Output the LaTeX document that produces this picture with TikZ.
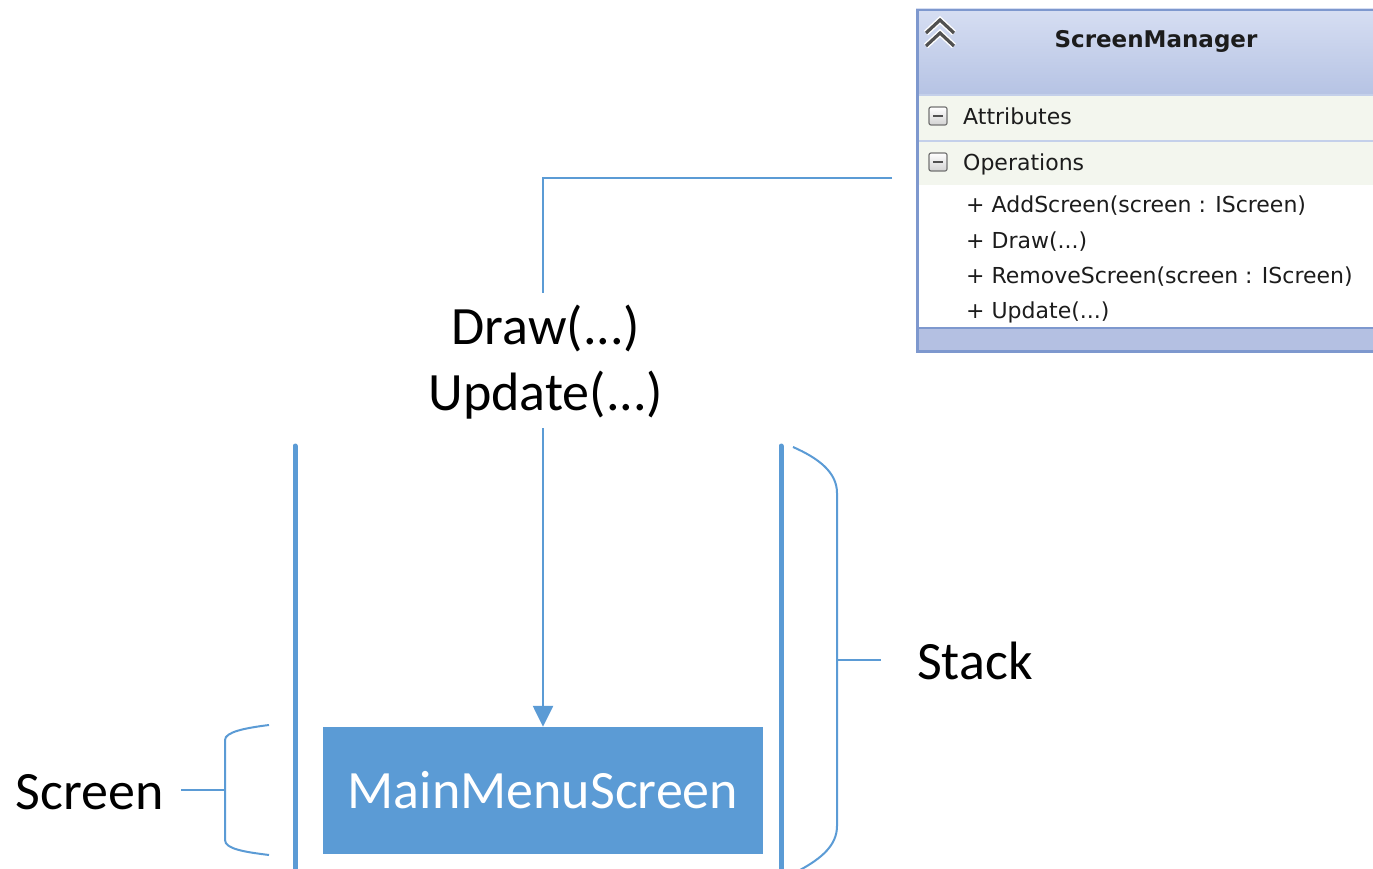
\documentclass[tikz,border=0pt]{standalone}
\usepackage{fontspec}
\setmainfont{Carlito}
\newfontfamily\umlfont{DejaVu Sans}
\usetikzlibrary{arrows.meta,calc}

\definecolor{accent}{HTML}{5B9BD5}
\definecolor{umlborder}{RGB}{126,152,206}
\definecolor{hdrtop}{RGB}{214,222,242}
\definecolor{hdrbot}{RGB}{182,195,228}
\definecolor{rowbg}{RGB}{243,246,238}
\definecolor{rowline}{RGB}{196,208,234}
\definecolor{footbg}{RGB}{180,192,226}
\definecolor{umlink}{RGB}{28,28,28}
\definecolor{icongray}{RGB}{80,80,80}

\begin{document}
\begin{tikzpicture}[x=1pt,y=-1pt,
  conn/.style={draw=accent, line width=2.5pt},
  wall/.style={draw=accent, line width=5pt, line cap=round},
  bracket/.style={draw=accent, line width=2pt},
  biglabel/.style={font=\fontsize{54}{66}\selectfont, text=black, inner sep=0pt, align=center},
  umltext/.style={font=\umlfont\fontsize{22}{26}\selectfont, text=umlink, anchor=base west, inner sep=0pt},
  umltitle/.style={font=\umlfont\bfseries\fontsize{23}{28}\selectfont, text=umlink, inner sep=0pt},
  screenbox/.style={fill=accent, minimum width=440pt, minimum height=127pt, inner sep=0pt,
    text=white, font=\fontsize{54}{64}\selectfont},
  minusbox/.style={draw=icongray!80, line width=1.2pt, rounded corners=2pt, minimum size=18pt,
    inner sep=0pt, top color=white, bottom color=gray!35,
    path picture={\draw[line width=2pt, icongray]
      ([xshift=-5pt]path picture bounding box.center) -- ([xshift=5pt]path picture bounding box.center);}}
]
\useasboundingbox (0,0) rectangle (1373,869);
\clip (0,0) rectangle (1373,869);

% ---------- class box ScreenManager ----------
\shade[top color=hdrtop, bottom color=hdrbot] (916,9) rectangle (1390,95);
\fill[rowbg] (916,95) rectangle (1390,185);
\fill[white] (916,185) rectangle (1390,328);
\fill[footbg] (916,328) rectangle (1390,350);
\draw[rowline, line width=1.5pt] (916,95) -- (1390,95);
\draw[rowline, line width=2pt] (916,141) -- (1390,141);
\draw[umlborder, line width=1.2pt] (916,328) -- (1390,328);
\node[draw=umlborder, line width=2.5pt, minimum width=480pt, minimum height=341pt,
      anchor=north west, inner sep=0pt] (uml) at (916,9) {};

% collapse chevrons
\foreach \dy in {0,13}{
  \draw[white, line width=6pt, line join=miter] (926,33+\dy) -- (940,20+\dy) -- (954,33+\dy);
  \draw[icongray, line width=3.2pt, line join=miter] (926,33+\dy) -- (940,20+\dy) -- (954,33+\dy);
}
\node[umltitle] (title) at (1156,41) {ScreenManager};

\node[minusbox] (attrIcon) at (938,116) {};
\node[umltext] (attr) at (963,125) {Attributes};
\node[minusbox] (opsIcon) at (938,162) {};
\node[umltext] (ops) at (963,171) {Operations};
\node[umltext] (op1) at (966,213) {+ AddScreen(screen : IScreen)};
\node[umltext] (op2) at (966,248) {+ Draw(...)};
\node[umltext] (op3) at (966,283) {+ RemoveScreen(screen : IScreen)};
\node[umltext] (op4) at (966,318) {+ Update(...)};

% ---------- stack ----------
\node[screenbox] (mms) at (543,790.5) {MainMenuScreen};
\draw[wall] (295,446) -- (295,880);
\draw[wall] (781,446) -- (781,880);
\draw[wall] (295,871.5) -- (781,871.5);

% ---------- call labels and connector ----------
\node[biglabel] (calls) at (546,362) {Draw(...)\\Update(...)};
\coordinate (hook) at ($(uml.west |- 0,178)+(-24,0)$);
\coordinate (gapTop) at (mms.north |- 0,293);
\coordinate (gapBot) at (mms.north |- 0,428);
\draw[conn] (hook) -| (gapTop);
\draw[conn, -{Triangle[length=21pt, width=20pt]}] (gapBot) -- (mms.north);

% ---------- brackets ----------
\draw[bracket] (269,725) .. controls (245,728) and (225,732) .. (225,740)
  -- (225,840) .. controls (225,849) and (245,852) .. (269,855);
\coordinate (screenTick) at (225,790);
\coordinate (screenEnd) at (181,790);
\node[biglabel, anchor=east] (screenLbl) at (164,792) {Screen};
\draw[bracket] (screenTick) -- (screenEnd);

\draw[bracket] (793,447) .. controls (818,458) and (837,472) .. (837,493)
  -- (837,826) .. controls (837,845) and (822,858) .. (800,870);
\coordinate (stackTick) at (837,660);
\coordinate (stackEnd) at (881,660);
\node[biglabel, anchor=west] (stackLbl) at (917,661) {Stack};
\draw[bracket] (stackTick) -- (stackEnd);
\end{tikzpicture}
\end{document}
